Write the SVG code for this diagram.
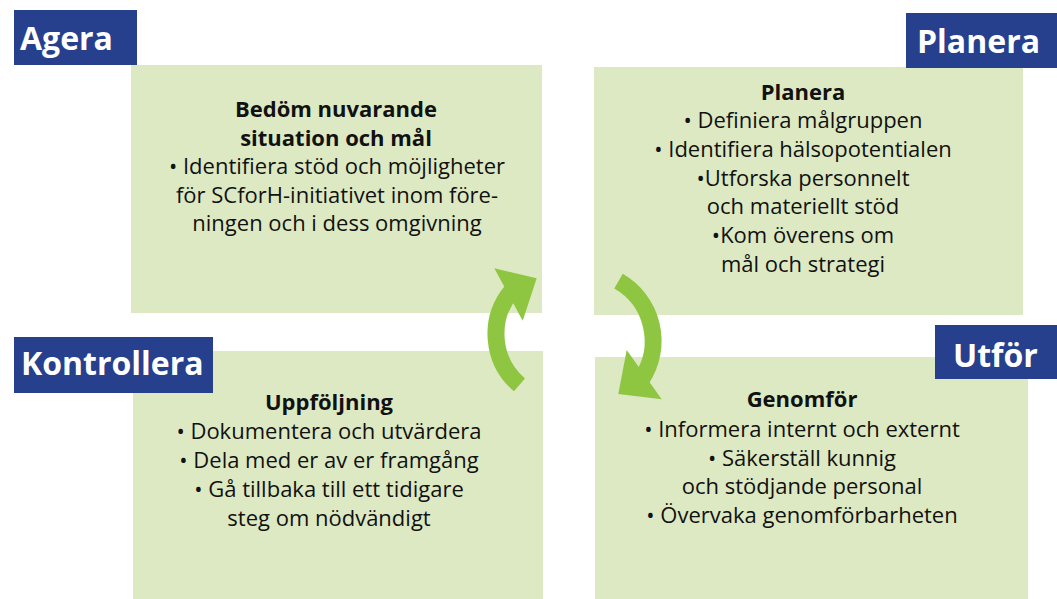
<svg xmlns="http://www.w3.org/2000/svg" width="1057" height="599" viewBox="0 0 1057 599">
<style>
.box{fill:#DDE9C3}
.lbl{fill:#26408E}
.lt{font-family:"Open Sans","Liberation Sans",sans-serif;font-weight:bold;font-size:32px;fill:#fff}
.t{font-family:"Open Sans","Liberation Sans",sans-serif;font-size:22px;fill:#111;text-anchor:middle}
.b{font-weight:bold}
.shaft{fill:none;stroke:#8FC641;stroke-width:17}
.head{fill:#8FC641}
</style>
<rect width="1057" height="599" fill="#fff"/>
<g id="node-agera">
<rect class="box" x="131" y="65" width="411" height="248"/>
<text class="t b" x="336" y="117">Bedöm nuvarande</text>
<text class="t b" x="336" y="145.5">situation och mål</text>
<text class="t" x="337" y="174">• Identifiera stöd och möjligheter</text>
<text class="t" x="337" y="202.5">för SCforH-initiativet inom före-</text>
<text class="t" x="337" y="231">ningen och i dess omgivning</text>
<rect class="lbl" x="14" y="10" width="123" height="55"/>
<text class="lt" x="20" y="50">Agera</text>
</g>
<g id="node-planera">
<rect class="box" x="594" y="67" width="429" height="248"/>
<text class="t b" x="803" y="99.5">Planera</text>
<text class="t" x="803" y="128.2">• Definiera målgruppen</text>
<text class="t" x="803" y="157">• Identifiera hälsopotentialen</text>
<text class="t" x="803" y="185.7">•Utforska personnelt</text>
<text class="t" x="803" y="214.4">och materiellt stöd</text>
<text class="t" x="803" y="243.1">•Kom överens om</text>
<text class="t" x="803" y="271.8">mål och strategi</text>
<rect class="lbl" x="906" y="13" width="151" height="55"/>
<text class="lt" x="917" y="53">Planera</text>
</g>
<g id="node-kontrollera">
<rect class="box" x="133" y="351" width="410" height="248"/>
<text class="t b" x="329" y="410">Uppföljning</text>
<text class="t" x="329" y="439.3">• Dokumentera och utvärdera</text>
<text class="t" x="329" y="468.3">• Dela med er av er framgång</text>
<text class="t" x="329" y="497.3">• Gå tillbaka till ett tidigare</text>
<text class="t" x="329" y="526">steg om nödvändigt</text>
<rect class="lbl" x="14" y="337" width="199" height="56"/>
<text class="lt" x="21" y="375">Kontrollera</text>
</g>
<g id="node-utfor">
<rect class="box" x="595" y="357" width="433" height="242"/>
<text class="t b" x="802" y="406.7">Genomför</text>
<text class="t" x="802" y="436.7">• Informera internt och externt</text>
<text class="t" x="802" y="465.5">• Säkerställ kunnig</text>
<text class="t" x="802" y="494.3">och stödjande personal</text>
<text class="t" x="802" y="523.3">• Övervaka genomförbarheten</text>
<rect class="lbl" x="935" y="325" width="122" height="54"/>
<text class="lt" x="953" y="367">Utför</text>
</g>
<g id="connectors">
<path class="shaft" d="M519.5,384.9 A67,67 0 0 1 510.9,291.8"/>
<polygon class="head" points="494.3,268.3 536.7,278.3 522.7,320.7"/>
<path class="shaft" d="M618.5,281.2 A69,69 0 0 1 641.7,379"/>
<polygon class="head" points="626.7,350 661.7,399.3 618.3,394"/>
</g>
</svg>
